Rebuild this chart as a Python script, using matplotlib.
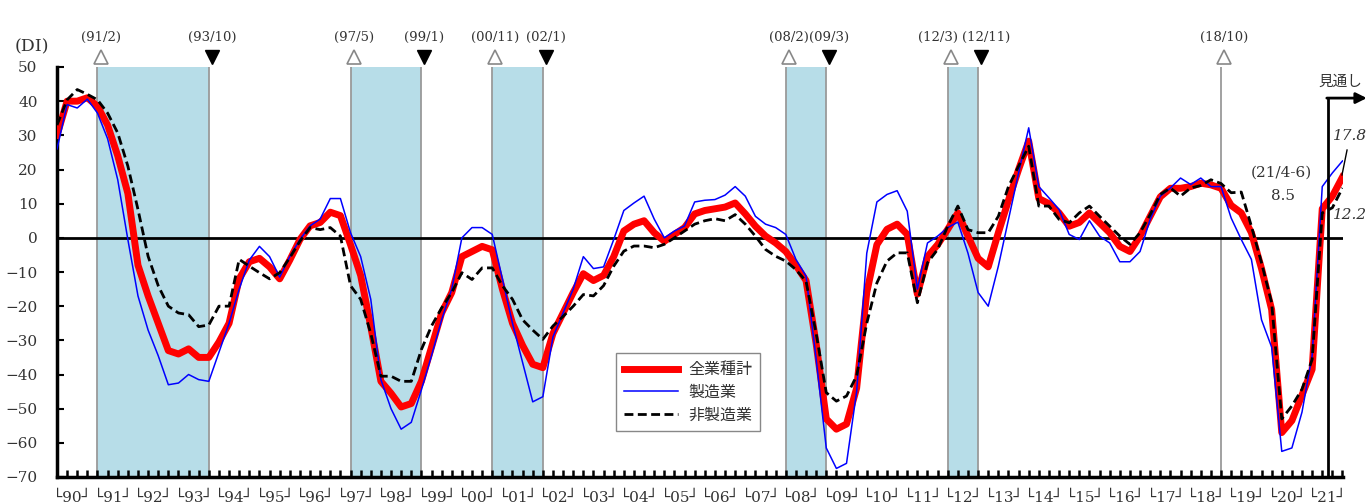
import numpy as np
import matplotlib
matplotlib.use("Agg")
import matplotlib.pyplot as plt
from matplotlib.lines import Line2D

# ---------------- data (quarterly, 1990Q1 ... 2021Q4; last two = 見通し) ----------------
all_industries = [
    30, 40, 40, 41, 38.5, 33, 24, 13, -8, -17, -25, -33, -34, -32.5, -35, -35,
    -30.5, -25, -12, -7, -6, -8.5, -12, -6.5, -0.5, 3.5, 4.5, 7.5, 6.5, -2, -11, -26,
    -42, -45.5, -49.5, -48.5, -42, -32, -22, -16, -5.5, -4, -2.5, -3.5, -15, -25, -31.5, -37,
    -38, -28, -22, -16, -10.5, -12.5, -11, -5.5, 2, 4, 5, 1.5, -1, 1, 3, 7,
    8, 8.5, 9, 10.2, 7, 3.4, 0.5, -1.5, -4, -8, -12.5, -31, -53, -56, -54.5, -44,
    -16, -2, 2.5, 4, 1, -16.5, -5.5, -2, 2.5, 7.3, 0.5, -6, -8.5, 1.5, 11, 20,
    28.3, 11.5, 10, 7.3, 3.4, 4.5, 7.3, 4.4, 1.5, -2.5, -4, 0.5, 6.3, 12, 14.5, 14.5,
    15, 16, 15.5, 14.5, 9.5, 7.3, 1.5, -9, -21, -57, -53.5, -46, -38.5, 8.5, 12.2, 17.8,
]
manufacturing = [
    26, 39, 38, 40.6, 36.5, 29, 17, -0.5, -17, -27, -34.5, -43, -42.5, -40, -41.5, -42,
    -33.5, -25, -15, -6.5, -2.5, -5.5, -11.5, -5.5, -0.5, 3.5, 5.5, 11.5, 11.5, 1.5, -5.5, -18,
    -41.5, -50, -56, -54, -44.5, -34.5, -24, -15, 0, 3, 3, 1, -12, -25, -36.5, -48,
    -46.5, -29, -22, -15, -5.5, -9, -8.5, -0.5, 8, 10.2, 12.2, 5.5, 0, 2, 3.5, 10.5,
    11, 11.2, 12.5, 15, 12.2, 6.3, 4, 3, 1, -6.3, -11.2, -35.5, -61.5, -67.5, -66, -45,
    -4.5, 10.5, 12.7, 13.8, 7.8, -15, -1.5, 0.5, 3, 4.6, -4.5, -16, -20, -8.3, 5.4, 19,
    32.2, 15, 11.7, 8.3, 1, -0.5, 5, 0.5, -1.5, -7, -7, -4, 5.4, 12.2, 14.6, 17.5,
    15.6, 17.5, 15, 15, 5.8, -0.5, -6.3, -24, -32, -62.5, -61.5, -51, -34.5, 15, 19, 22.5,
]
non_manufacturing = [
    33, 40.4, 43.4, 42, 40.4, 36.5, 30.7, 21, 8.3, -5.4, -14, -20, -22, -22.5, -26, -25.5,
    -20, -20, -6.3, -8.3, -10.2, -12, -10.2, -5.8, -1, 3, 2.4, 3, 0.5, -14, -18, -28,
    -40.5, -40.5, -42, -42, -32.7, -25.8, -20.5, -16, -10.2, -12.2, -8.8, -8.8, -14, -18, -24, -27,
    -29.7, -25.8, -23, -20, -16.6, -17, -14, -8.3, -3.9, -2.4, -2.4, -2.9, -1.9, 0, 2, 4,
    5, 5.6, 5, 6.8, 4, 0.5, -3.4, -5.4, -6.8, -9.3, -12.7, -28, -45.3, -47.8, -46.3, -40.4,
    -25, -13.2, -6.8, -4.4, -4.4, -19, -7.3, -3.4, 3.4, 9.3, 2.4, 1.5, 1.5, 6.3, 15, 21,
    26.8, 9.3, 9.3, 5.4, 4.4, 7.3, 9.3, 6.3, 3.4, 0.5, -1.9, 1.5, 6.8, 12.7, 14.6, 12.2,
    14.6, 15.3, 17, 15.9, 13.2, 13.4, 3.4, -7.3, -19, -53, -49.2, -44.3, -35.6, 7.3, 8.8, 14.6,
]
series_names = ["全業種計", "製造業", "非製造業"]

years = list(range(1990, 2022))
year_labels = ["└%02d┘" % (y % 100) for y in years]

# business-cycle peaks (△) and troughs (▼): (year, quarter), label
peaks = [((1991, 1), "(91/2)"), ((1997, 2), "(97/5)"), ((2000, 4), "(00/11)"),
         ((2008, 1), "(08/2)"), ((2012, 1), "(12/3)"), ((2018, 4), "(18/10)")]
troughs = [((1993, 4), "(93/10)"), ((1999, 1), "(99/1)"), ((2002, 1), "(02/1)"),
           ((2009, 1), "(09/3)"), ((2012, 4), "(12/11)")]

current_label = "(21/4-6)"
current_value = "8.5"
forecast_labels = ["12.2", "17.8"]


def qidx(yq):
    y, q = yq
    return (y - 1990) * 4 + (q - 1)


# ---------------- figure ----------------
W, H = 1369, 504
fig = plt.figure(figsize=(W / 100, H / 100), dpi=100)
ax = fig.add_axes([57 / W, 27 / H, 1286 / W, 410 / H])

serif = ["DejaVu Serif", "DejaVu Sans"]
jp = ["Noto Sans CJK JP", "DejaVu Sans"]

x = np.arange(len(all_industries))
ax.set_xlim(0, 127.05)
ax.set_ylim(-70, 50)

shade = "#b7dde8"
edge = "#9a9a9a"
for (p, pl), (t, tl) in zip(peaks[:5], troughs):
    s, e = qidx(p), qidx(t)
    ax.axvspan(s, e, color=shade, zorder=0, lw=0)
for p, pl in peaks:
    s = qidx(p)
    ax.vlines(s, -70, 50, color=edge, lw=1.3, zorder=1)
    ax.plot(s + 0.3, 52.8, marker="^", ms=10, mfc="white", mec="#888888",
            mew=1.2, clip_on=False, zorder=5)
for t, tl in troughs:
    e = qidx(t)
    ax.vlines(e, -70, 50, color=edge, lw=1.3, zorder=1)
    ax.plot(e + 0.3, 52.8, marker="v", ms=10, color="black", clip_on=False, zorder=5)

label_shift = {"(12/3)": -1.3, "(12/11)": 0.5}
for yq, lab in peaks + troughs:
    ax.text(qidx(yq) + 0.3 + label_shift.get(lab, 0), 58.7, lab, ha="center",
            va="center", fontsize=9.5, family=serif, color="#333333", clip_on=False)

ax.axhline(0, color="black", lw=2, zorder=2)

ax.plot(x, all_industries, color="#ff0000", lw=5, zorder=3, solid_joinstyle="round")
ax.plot(x, manufacturing, color="#0000ff", lw=1.1, zorder=4)
ax.plot(x, non_manufacturing, color="black", lw=2, ls=(0, (3.2, 1.6)), zorder=5)

# spines and ticks
for s in ("top", "right"):
    ax.spines[s].set_visible(False)
ax.spines["left"].set_linewidth(2.5)
ax.spines["bottom"].set_linewidth(2.5)
ax.set_yticks(np.arange(-70, 51, 10))
ax.set_yticklabels([("−%d" % -v) if v < 0 else str(v) for v in range(-70, 51, 10)],
                   family=serif, fontsize=11, color="#333333")
ax.tick_params(axis="y", direction="in", length=5, width=1.5, pad=14)
ax.set_xticks(np.arange(0, 128))
ax.set_xticklabels([])
ax.tick_params(axis="x", direction="in", length=5, width=1.8)

for i, lab in enumerate(year_labels):
    ax.text(4 * i + 1.5, -76.2, lab, ha="center", va="center", fontsize=11,
            family=serif, color="#333333", clip_on=False)

fig.text(32 / W, 1 - 47 / H, "(DI)", ha="center", va="center", fontsize=12.5,
         family=serif, color="#333333")

# forecast marker
xf = 125.55
ax.plot([xf, xf], [-70, 40.9], color="black", lw=2, clip_on=False, zorder=6,
        solid_capstyle="butt")
ax.annotate("", xy=(129.4, 40.9), xytext=(xf - 0.1, 40.9),
            arrowprops=dict(arrowstyle="-|>", lw=2, color="black", mutation_scale=16,
                            shrinkA=0, shrinkB=0), annotation_clip=False)
fig.text(1340 / W, 1 - 82 / H, "見通し", ha="center", va="center", fontsize=10.5,
         family=jp, color="#333333")

ax.text(121.0, 19.0, current_label, ha="center", va="center", fontsize=11,
        family=serif, color="#333333")
ax.text(121.1, 12.3, current_value, ha="center", va="center", fontsize=11,
        family=serif, color="#333333")
ax.text(127.7, 29.8, forecast_labels[1], ha="center", va="center", fontsize=11,
        family=serif, style="italic", color="#333333", clip_on=False)
ax.text(127.7, 6.7, forecast_labels[0], ha="center", va="center", fontsize=11,
        family=serif, style="italic", color="#333333", clip_on=False)
ax.plot([127.45, 126.95], [25.7, 18.4], color="black", lw=1, clip_on=False, zorder=6)

handles = [Line2D([], [], color="#ff0000", lw=5),
           Line2D([], [], color="#0000ff", lw=1.1),
           Line2D([], [], color="black", lw=2, ls=(0, (3.2, 1.6)))]
leg = ax.legend(handles, series_names, loc="upper left",
                bbox_to_anchor=(0.4347, 0.302), borderaxespad=0,
                prop={"family": jp, "size": 11.5}, handlelength=3.4,
                labelspacing=0.35, fancybox=False, framealpha=1,
                edgecolor="#888888", borderpad=0.5, handletextpad=0.6)
leg.get_frame().set_linewidth(1)
for t in leg.get_texts():
    t.set_color("#333333")

fig.savefig("out.png", dpi=100)
